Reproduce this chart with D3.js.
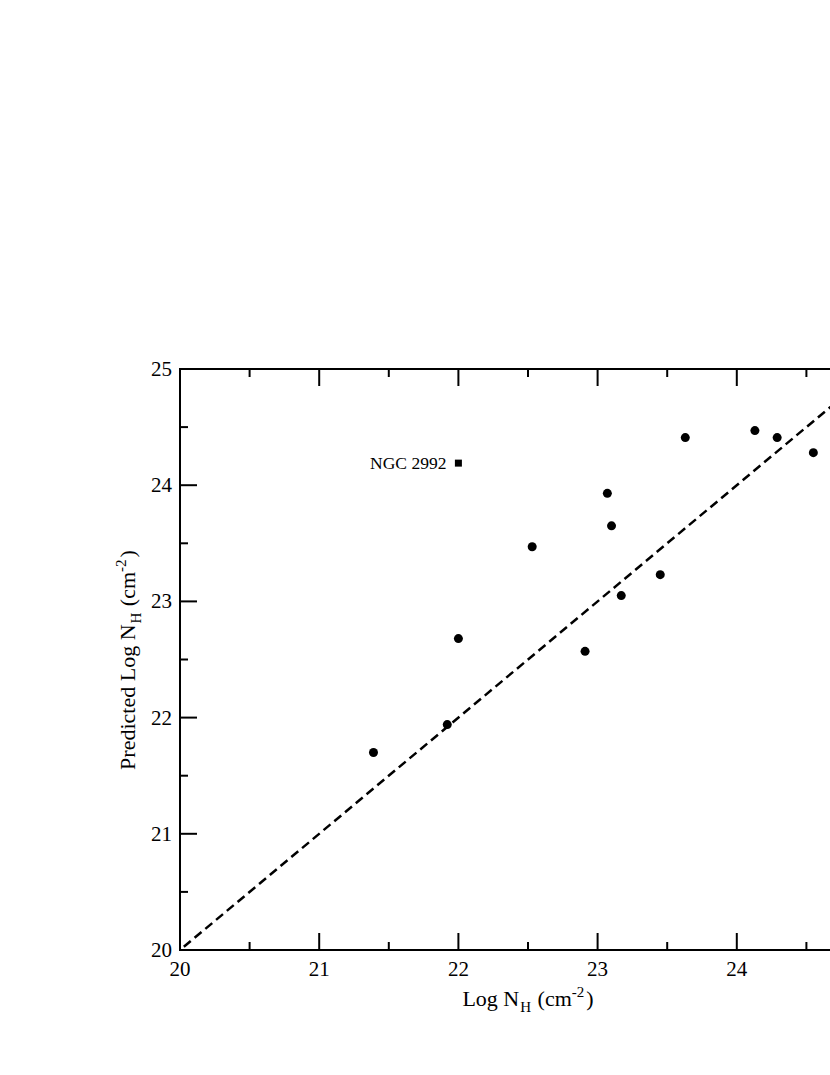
<!DOCTYPE html>
<html><head><meta charset="utf-8">
<script src="https://cdn.jsdelivr.net/npm/d3@7"></script>
<style>html,body{margin:0;padding:0;background:#fff;overflow:hidden}</style>
</head><body>
<script>
const obsNH = [21.39, 21.92, 22.00, 22.53, 22.91, 23.07, 23.10, 23.17, 23.45, 23.63, 24.13, 24.29, 24.55];
const predNH = [21.70, 21.94, 22.68, 23.47, 22.57, 23.93, 23.65, 23.05, 23.23, 24.41, 24.47, 24.41, 24.28];
const outlierName = ["NGC 2992"];
const outlierObs = [22.00];
const outlierPred = [24.19];
const majorTicks = [20, 21, 22, 23, 24, 25];
const minorTicks = [20.5, 21.5, 22.5, 23.5, 24.5];
const xDomain = [20, 25], yDomain = [20, 25];
const refLine = [20, 25];

const W = 830, H = 1075;
const font = "'Liberation Serif','Times New Roman',serif";
const svg = d3.select("body").append("svg").attr("width", W).attr("height", H)
  .style("font-family", font);

const L = 180, R = 876, T = 369, B = 950;
const x = d3.scaleLinear().domain(xDomain).range([L, R]);
const y = d3.scaleLinear().domain(yDomain).range([B, T]);

// frame
svg.append("rect").attr("x", L).attr("y", T).attr("width", R - L).attr("height", B - T)
  .attr("fill", "none").attr("stroke", "#000").attr("stroke-width", 2);

// ticks (inward) on all sides
const tk = svg.append("g").attr("stroke", "#000").attr("stroke-width", 2);
majorTicks.concat(minorTicks).forEach(v => {
  const len = majorTicks.includes(v) ? 17 : 8;
  tk.append("line").attr("x1", x(v)).attr("x2", x(v)).attr("y1", B).attr("y2", B - len);
  tk.append("line").attr("x1", x(v)).attr("x2", x(v)).attr("y1", T).attr("y2", T + len);
  tk.append("line").attr("y1", y(v)).attr("y2", y(v)).attr("x1", L).attr("x2", L + len);
  tk.append("line").attr("y1", y(v)).attr("y2", y(v)).attr("x1", R).attr("x2", R - len);
});

// tick labels (only those inside the visible page)
const fs = 21;
svg.append("g").selectAll("text").data(majorTicks.filter(d => x(d) + 12 < W)).join("text")
  .attr("x", d => x(d)).attr("y", B + 26).attr("text-anchor", "middle")
  .attr("font-size", fs).text(d => d);
svg.append("g").selectAll("text").data(majorTicks).join("text")
  .attr("x", L - 8).attr("y", d => y(d) + 7).attr("text-anchor", "end")
  .attr("font-size", fs).text(d => d);

// axis titles
function title(sel, lead) {
  sel.append("tspan").text(lead + "Log N");
  sel.append("tspan").attr("dx", 1).attr("dy", 6).attr("font-size", 15).text("H");
  sel.append("tspan").attr("dx", 1).attr("dy", -6).text(" (cm");
  sel.append("tspan").attr("dy", -9).attr("font-size", 15).text("-2");
  sel.append("tspan").attr("dx", 2).attr("dy", 9).text(")");
}
const ft = 22;
title(svg.append("text").attr("x", 528).attr("y", 1006).attr("text-anchor", "middle")
  .attr("font-size", ft), "");
title(svg.append("text").attr("transform", "translate(135,660) rotate(-90)")
  .attr("text-anchor", "middle").attr("font-size", ft), "Predicted ");

// reference line y = x
svg.append("line").attr("x1", x(refLine[0])).attr("y1", y(refLine[0]))
  .attr("x2", x(refLine[1])).attr("y2", y(refLine[1]))
  .attr("stroke", "#000").attr("stroke-width", 2.5).attr("stroke-dasharray", "9,5")
  .attr("stroke-dashoffset", 9);

// points
svg.append("g").selectAll("circle").data(obsNH).join("circle")
  .attr("cx", d => x(d)).attr("cy", (d, i) => y(predNH[i])).attr("r", 4.5).attr("fill", "#000");

// outlier square + label
outlierObs.forEach((v, i) => {
  svg.append("rect").attr("x", x(v) - 3.5).attr("y", y(outlierPred[i]) - 3.5)
    .attr("width", 7).attr("height", 7).attr("fill", "#000");
  svg.append("text").attr("x", x(v) - 12).attr("y", y(outlierPred[i]) + 6)
    .attr("text-anchor", "end").attr("font-size", 17.5).text(outlierName[i]);
});
</script>
</body></html>
